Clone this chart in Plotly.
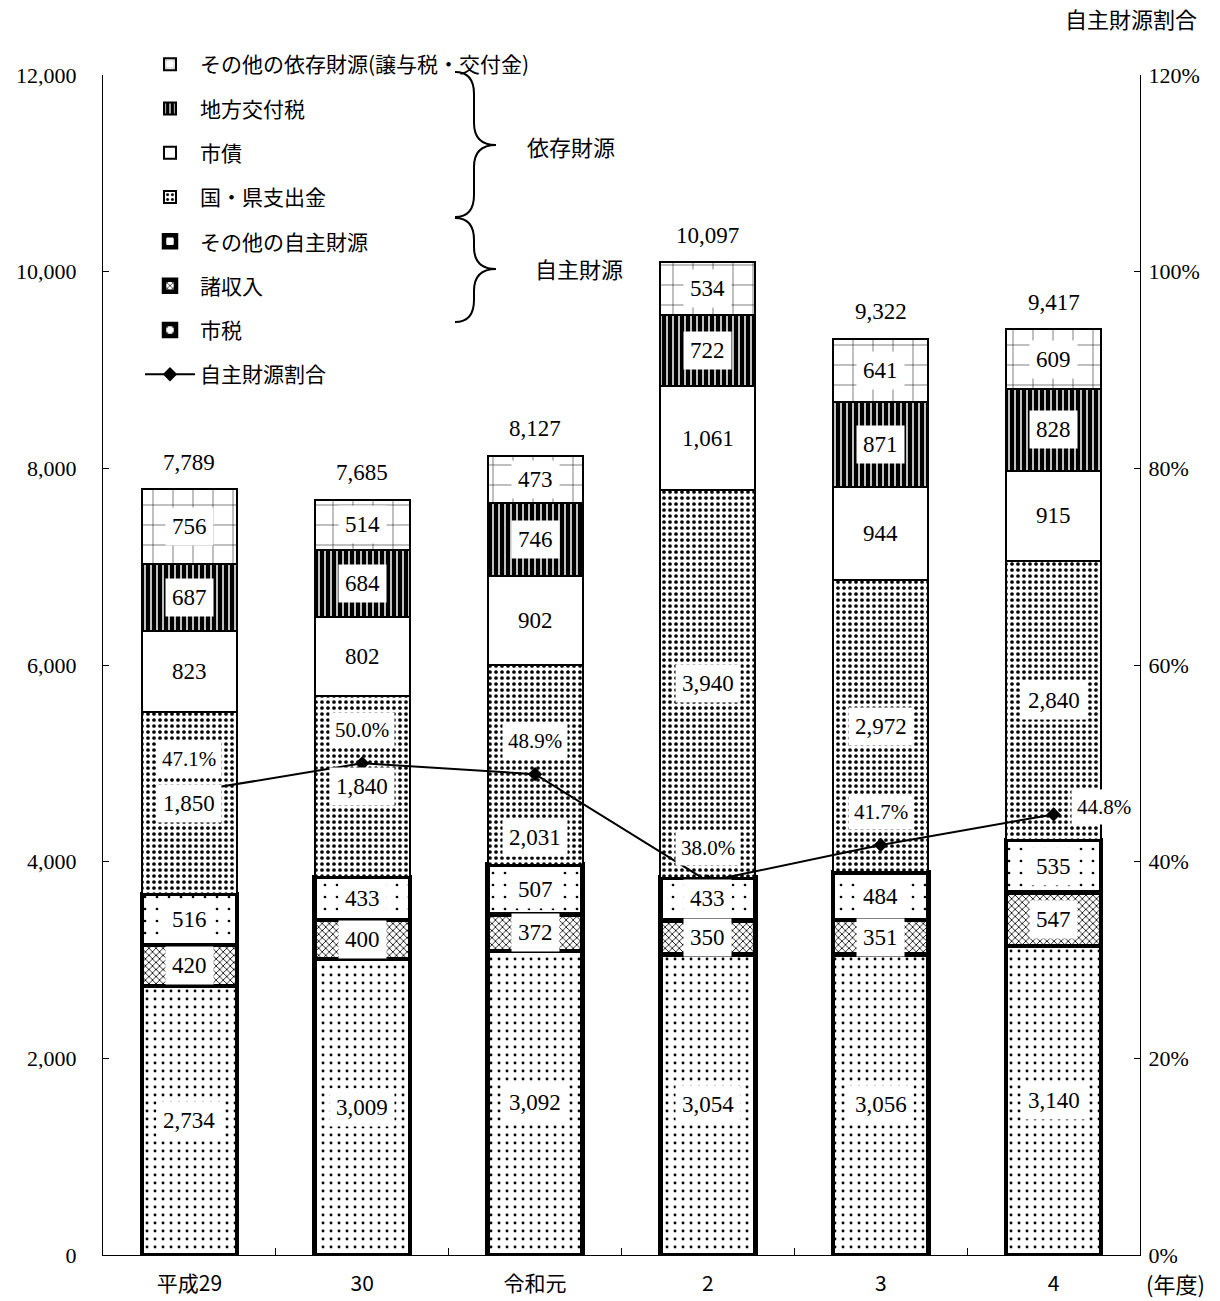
import plotly.graph_objects as go

# ---------------- data ----------------
years = ["平成29", "30", "令和元", "2", "3", "4"]
shizei = [2734, 3009, 3092, 3054, 3056, 3140]          # 市税
shoshunyu = [420, 400, 372, 350, 351, 547]              # 諸収入
sonota_jishu = [516, 433, 507, 433, 484, 535]           # その他の自主財源
kokuken = [1850, 1840, 2031, 3940, 2972, 2840]          # 国・県支出金
shisai = [823, 802, 902, 1061, 944, 915]                # 市債
kofuzei = [687, 684, 746, 722, 871, 828]                # 地方交付税
sonota_izon = [756, 514, 473, 534, 641, 609]            # その他の依存財源
totals = [7789, 7685, 8127, 10097, 9322, 9417]
ratio = [47.1, 50.0, 48.9, 38.0, 41.7, 44.8]            # 自主財源割合 (%)

W, H = 1220, 1301
ML, MR, MT, MB = 103, 80, 75, 46
PW, PH = W - ML - MR, H - MT - MB

NUMFONT = "Liberation Serif, Noto Sans CJK JP, serif"
JPFONT = "Noto Sans CJK JP, Liberation Serif, serif"


def px(x):
    return (x - ML) / PW


def py(y):
    return (H - MB - y) / PH


series = [
    ("市税", shizei, dict(shape=".", size=8, solidity=0.1), 4.5, 7),
    ("諸収入", shoshunyu, dict(shape="x", size=5, solidity=0.3), 4.5, 6),
    ("その他の自主財源", sonota_jishu, dict(shape=".", size=12, solidity=0.04), 4.5, 5),
    ("国・県支出金", kokuken, dict(shape=".", size=6, solidity=0.3), 2, 4),
    ("市債", shisai, None, 2, 3),
    ("地方交付税", kofuzei, dict(shape="|", size=6, solidity=0.75), 2, 2),
    ("その他の依存財源(譲与税・交付金)", sonota_izon, dict(shape="+", size=20, solidity=0.05), 2, 1),
]

fig = go.Figure()
annotations = []
base = [0] * len(years)
for name, vals, pat, lw, rank in series:
    marker = dict(color="white", line=dict(color="black", width=lw))
    if pat:
        p = dict(pat)
        p.update(fgcolor="black", bgcolor="white", fillmode="replace")
        marker["pattern"] = p
    fig.add_trace(go.Bar(
        x=years, y=vals, name=name, marker=marker, width=0.55,
        legendrank=rank, legendgroup=name, hoverinfo="skip",
    ))
    for i, v in enumerate(vals):
        ys = 0
        if name == "国・県支出金" and years[i] == "令和元":
            ys = -73
        annotations.append(dict(
            x=i, y=base[i] + v / 2, xref="x", yref="y",
            text=f"{v:,}", showarrow=False, yshift=ys,
            font=dict(family=NUMFONT, size=23, color="black"),
            bgcolor="white", borderpad=6,
        ))
        base[i] += v

fig.add_trace(go.Scatter(
    x=years, y=[r / 100 for r in ratio], yaxis="y2", name="自主財源割合",
    mode="lines+markers", line=dict(color="black", width=2),
    marker=dict(symbol="diamond", size=11, color="black"),
    legendrank=8, legendgroup="ratio", hoverinfo="skip",
))

# ratio labels
for i, r in enumerate(ratio):
    xs, ys = 0, 33
    if i == len(ratio) - 1:
        xs, ys = 50, 7
    annotations.append(dict(
        x=i, y=r / 100, xref="x", yref="y2", text=f"{r:.1f}%",
        showarrow=False, xshift=xs, yshift=ys,
        font=dict(family=NUMFONT, size=21, color="black"),
        bgcolor="white", borderpad=5,
    ))

# totals
for i, t in enumerate(totals):
    annotations.append(dict(
        x=i, y=t, xref="x", yref="y", text=f"{t:,}",
        showarrow=False, yshift=27,
        font=dict(family=NUMFONT, size=23, color="black"),
    ))

# other texts
def ptext(x, y, s):
    return dict(x=px(x), y=py(y), xref="paper", yref="paper", text=s,
                xanchor="center", yanchor="middle", showarrow=False,
                font=dict(family=JPFONT, size=22, color="black"))


annotations += [
    ptext(1131, 18, "自主財源割合"),
    ptext(1175, 1283, "(年度)"),
    ptext(571, 146, "依存財源"),
    ptext(579, 268, "自主財源"),
]


def brace(x0, x1, x2, ytop, ymid, ybot, d=22):
    pts = lambda x, y: f"{px(x):.5f},{py(y):.5f}"
    return (f"M {pts(x0, ytop)} Q {pts(x1, ytop)} {pts(x1, ytop + d)} "
            f"L {pts(x1, ymid - d)} Q {pts(x1, ymid)} {pts(x2, ymid)} "
            f"Q {pts(x1, ymid)} {pts(x1, ymid + d)} "
            f"L {pts(x1, ybot - d)} Q {pts(x1, ybot)} {pts(x0, ybot)}")


shapes = [
    dict(type="path", xref="paper", yref="paper",
         path=brace(455, 474, 496, 72, 145, 217), line=dict(color="black", width=2)),
    dict(type="path", xref="paper", yref="paper",
         path=brace(455, 474, 496, 218, 269, 322), line=dict(color="black", width=2)),
]

fig.update_layout(
    width=W, height=H, barmode="stack",
    margin=dict(l=ML, r=MR, t=MT, b=MB, autoexpand=False),
    paper_bgcolor="white", plot_bgcolor="white",
    font=dict(family=NUMFONT, size=22, color="black"),
    annotations=annotations, shapes=shapes,
    legend=dict(
        x=px(140), y=py(44), xanchor="left", yanchor="top",
        bgcolor="rgba(0,0,0,0)", font=dict(family=JPFONT, size=21),
        tracegroupgap=14, itemwidth=50,
    ),
    xaxis=dict(
        type="category", categoryorder="array", categoryarray=years,
        range=[-0.5, len(years) - 0.5], autorange=False,
        showline=True, linecolor="black", linewidth=1,
        ticks="inside", tickson="boundaries", ticklen=7, tickcolor="black",
        ticklabelstandoff=10, tickfont=dict(family=JPFONT, size=21),
    ),
    yaxis=dict(
        range=[0, 12000], dtick=2000, tickformat=",d",
        showline=True, linecolor="black", linewidth=1, showgrid=False,
        ticks="inside", ticklen=6, tickcolor="black", ticklabelstandoff=21,
        zeroline=False, tickfont=dict(family=NUMFONT, size=22),
    ),
    yaxis2=dict(
        range=[0, 1.2], dtick=0.2, tickformat=".0%", overlaying="y", side="right",
        showline=True, linecolor="black", linewidth=1, showgrid=False,
        ticks="inside", ticklen=6, tickcolor="black", ticklabelstandoff=3,
        zeroline=False, tickfont=dict(family=NUMFONT, size=22),
    ),
)

fig.write_html("out.html")
